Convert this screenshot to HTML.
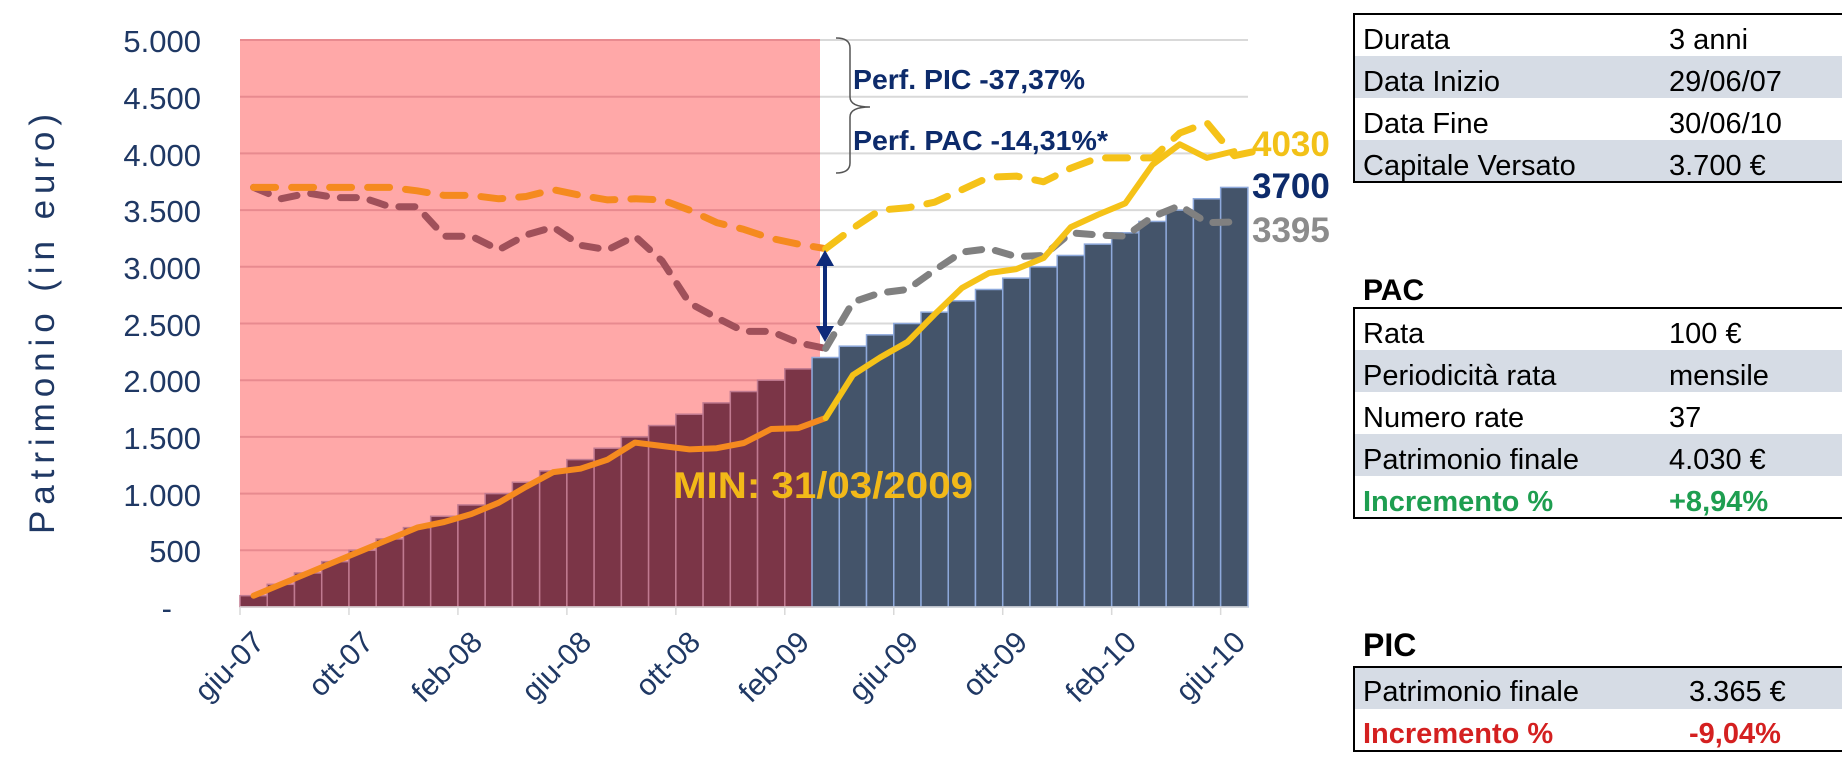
<!DOCTYPE html>
<html><head><meta charset="utf-8"><style>
html,body{margin:0;padding:0;background:#fff;width:1842px;height:780px;overflow:hidden}
svg{display:block}
.ax{font-family:"Liberation Sans",sans-serif;fill:#1f3864}
.tb{font-family:"Liberation Sans",Arial,sans-serif;font-size:29px;fill:#000}
</style></head><body>
<svg id="s" width="1842" height="780" viewBox="0 0 1842 780" xmlns="http://www.w3.org/2000/svg">
<rect x="240" y="40" width="580" height="567" fill="#ffa8a8"/>
<g id="grid"></g>
<g id="bars"></g>
<g id="lines"></g>
<g class="ax" font-size="31" text-anchor="end">
<text x="201" y="52">5.000</text>
<text x="201" y="109">4.500</text>
<text x="201" y="166">4.000</text>
<text x="201" y="222">3.500</text>
<text x="201" y="279">3.000</text>
<text x="201" y="336">2.500</text>
<text x="201" y="392">2.000</text>
<text x="201" y="449">1.500</text>
<text x="201" y="506">1.000</text>
<text x="201" y="562">500</text>
<text x="172" y="619">-</text>
</g>
<text class="ax" font-size="35" fill="#2e4a7a" transform="translate(54,324) rotate(-90)" text-anchor="middle" textLength="420" lengthAdjust="spacing">Patrimonio (in euro)</text>
<g class="ax" font-size="30" text-anchor="end">
<text transform="translate(266,644) rotate(-45)">giu-07</text>
<text transform="translate(375,644) rotate(-45)">ott-07</text>
<text transform="translate(484,644) rotate(-45)">feb-08</text>
<text transform="translate(593,644) rotate(-45)">giu-08</text>
<text transform="translate(702,644) rotate(-45)">ott-08</text>
<text transform="translate(811,644) rotate(-45)">feb-09</text>
<text transform="translate(920,644) rotate(-45)">giu-09</text>
<text transform="translate(1029,644) rotate(-45)">ott-09</text>
<text transform="translate(1138,644) rotate(-45)">feb-10</text>
<text transform="translate(1247,644) rotate(-45)">giu-10</text>
</g>
<line x1="825" y1="262" x2="825" y2="330" stroke="#0d2b7a" stroke-width="4"/>
<polygon points="825,250 816,266 834,266" fill="#0d2b7a"/>
<polygon points="825,342 816,326 834,326" fill="#0d2b7a"/>
<path d="M836,38 Q850,38 850,48 L850,97 Q850,107 870,107 Q850,107 850,117 L850,163 Q850,173 836,173" fill="none" stroke="#555" stroke-width="1.5"/>
<g font-family="Liberation Sans,sans-serif" font-weight="bold" font-size="28" fill="#0d2b6b">
<text x="853" y="89" textLength="232" lengthAdjust="spacingAndGlyphs">Perf. PIC -37,37%</text>
<text x="853" y="150" textLength="255" lengthAdjust="spacingAndGlyphs">Perf. PAC -14,31%*</text>
</g>
<text x="673" y="498" font-family="Liberation Sans,sans-serif" font-weight="bold" font-size="37" fill="#f2b918" textLength="300" lengthAdjust="spacingAndGlyphs">MIN: 31/03/2009</text>
<g font-family="Liberation Sans,sans-serif" font-weight="bold" font-size="35">
<text x="1252" y="156" fill="#f2c118">4030</text>
<text x="1252" y="198" fill="#0d2b6b">3700</text>
<text x="1252" y="242" fill="#8c8c8c">3395</text>
</g>
<g class="tb">
<rect x="1354" y="56" width="500" height="42" fill="#d6dce5"/>
<rect x="1354" y="140" width="500" height="42" fill="#d6dce5"/>
<rect x="1354" y="14" width="500" height="168" fill="none" stroke="#000" stroke-width="2"/>
<text x="1363" y="49">Durata</text><text x="1669" y="49">3 anni</text>
<text x="1363" y="91">Data Inizio</text><text x="1669" y="91">29/06/07</text>
<text x="1363" y="133">Data Fine</text><text x="1669" y="133">30/06/10</text>
<text x="1363" y="175">Capitale Versato</text><text x="1669" y="175">3.700 €</text>

<text x="1363" y="300" font-weight="bold" font-size="30">PAC</text>
<rect x="1354" y="350" width="500" height="42" fill="#d6dce5"/>
<rect x="1354" y="434" width="500" height="42" fill="#d6dce5"/>
<rect x="1354" y="308" width="500" height="210" fill="none" stroke="#000" stroke-width="2"/>
<text x="1363" y="343">Rata</text><text x="1669" y="343">100 €</text>
<text x="1363" y="385">Periodicità rata</text><text x="1669" y="385">mensile</text>
<text x="1363" y="427">Numero rate</text><text x="1669" y="427">37</text>
<text x="1363" y="469">Patrimonio finale</text><text x="1669" y="469">4.030 €</text>
<text x="1363" y="511" font-weight="bold" fill="#1e9e50">Incremento %</text><text x="1669" y="511" font-weight="bold" fill="#1e9e50">+8,94%</text>

<text x="1363" y="656" font-weight="bold" font-size="32">PIC</text>
<rect x="1354" y="667" width="500" height="42" fill="#d6dce5"/>
<rect x="1354" y="667" width="500" height="84" fill="none" stroke="#000" stroke-width="2"/>
<text x="1363" y="701">Patrimonio finale</text><text x="1689" y="701">3.365 €</text>
<text x="1363" y="743" font-weight="bold" fill="#d42020">Incremento %</text><text x="1689" y="743" font-weight="bold" fill="#d42020">-9,04%</text>
</g>
</svg>
<script>
(function(){
var NS="http://www.w3.org/2000/svg";
function el(p,t,a){var e=document.createElementNS(NS,t);for(var k in a)e.setAttribute(k,a[k]);p.appendChild(e);return e;}
var X0=240,P=27.24,B=607,S=0.1134;
function Y(v){return B-S*v;}
var g=document.getElementById('grid');
for(var v=500;v<=5000;v+=500){
 el(g,'line',{x1:240,x2:820,y1:Y(v),y2:Y(v),stroke:'#e88a8f','stroke-width':2});
 el(g,'line',{x1:820,x2:1248,y1:Y(v),y2:Y(v),stroke:'#d9d9d9','stroke-width':2});
}
var b=document.getElementById('bars');
for(var i=0;i<37;i++){
 var h=S*100*(i+1),red=i<=20;
 el(b,'rect',{x:X0+P*i,y:B-h,width:P,height:h,fill:red?'#7b3547':'#44546a',stroke:red?'#c07a90':'#8ea9db','stroke-width':1.5});
}
el(b,'line',{x1:240,x2:1248,y1:B,y2:B,stroke:'#d9d9d9','stroke-width':1.5});
for(var i=0;i<=36;i+=4){el(b,'line',{x1:X0+P*i,x2:X0+P*i,y1:B,y2:B+8,stroke:'#d9d9d9','stroke-width':1.5});}
var L=document.getElementById('lines');
function pl(vals,start,color,dash,w){
 var pts=vals.map(function(v,k){return (X0+P*(start+k+0.5)).toFixed(1)+','+Y(v).toFixed(1);}).join(' ');
 var a={points:pts,fill:'none',stroke:color,'stroke-width':w,'stroke-linejoin':'round','stroke-linecap':'round'};
 if(dash)a['stroke-dasharray']=dash;
 el(L,'polyline',a);
}
var mauve=[3700,3600,3650,3610,3610,3530,3530,3270,3270,3150,3280,3350,3190,3150,3270,3050,2680,2550,2430,2430,2330,2280];
var grey=[2280,2690,2770,2800,2970,3130,3160,3090,3100,3300,3280,3270,3440,3540,3390,3395];
var od=[3700,3700,3700,3700,3700,3700,3670,3630,3630,3600,3620,3680,3630,3590,3600,3590,3500,3390,3330,3250,3200,3160];
var yd=[3160,3340,3500,3520,3570,3680,3790,3800,3750,3870,3960,3960,3960,4180,4270,3980,4030];
var os=[100,200,300,400,500,600,700,750,820,920,1060,1190,1220,1300,1450,1420,1390,1400,1446,1570,1578,1667];
var ys=[1667,2046,2200,2337,2580,2813,2945,2980,3078,3350,3460,3560,3900,4080,3960,4020];
pl(mauve,0,'#a0505a','16 14',7);
pl(grey,21,'#808080','16 14',7);
pl(od,0,'#f58a1f','22 16',7);
pl(yd,21,'#f5c218','22 16',7);
pl(os,0,'#f58a1f',null,6);
pl(ys,21,'#f5c218',null,6);
})();
</script>
</body></html>
